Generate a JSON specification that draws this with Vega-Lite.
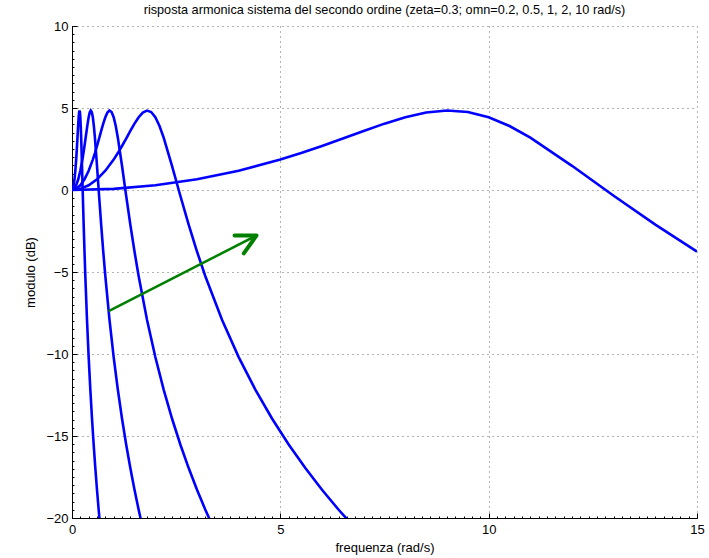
{
  "$schema": "https://vega.github.io/schema/vega-lite/v6.json",
  "width": 625,
  "height": 492,
  "autosize": {"type": "none"},
  "padding": {"left": 72, "top": 26, "right": 12, "bottom": 40},
  "background": "white",
  "title": {
    "text": "risposta armonica sistema del secondo ordine (zeta=0.3; omn=0.2, 0.5, 1, 2, 10 rad/s)",
    "font": "Liberation Sans",
    "fontSize": 12.7,
    "fontWeight": "normal",
    "color": "black",
    "anchor": "middle",
    "frame": "group",
    "offset": 3
  },
  "config": {
    "view": {"stroke": null},
    "axis": {
      "labelFont": "Liberation Sans",
      "titleFont": "Liberation Sans",
      "labelFontSize": 13,
      "titleFontSize": 13,
      "titleFontWeight": "normal",
      "labelColor": "black",
      "titleColor": "black",
      "domainColor": "black",
      "tickColor": "black"
    }
  },
  "datasets": {
    "curves": [
      {"omn": "0.2", "w": 0, "db": 0},
      {"omn": "0.2", "w": 0.02, "db": 0.071},
      {"omn": "0.2", "w": 0.04, "db": 0.287},
      {"omn": "0.2", "w": 0.06, "db": 0.653},
      {"omn": "0.2", "w": 0.08, "db": 1.174},
      {"omn": "0.2", "w": 0.1, "db": 1.854},
      {"omn": "0.2", "w": 0.11, "db": 2.252},
      {"omn": "0.2", "w": 0.12, "db": 2.683},
      {"omn": "0.2", "w": 0.13, "db": 3.137},
      {"omn": "0.2", "w": 0.14, "db": 3.6},
      {"omn": "0.2", "w": 0.15, "db": 4.046},
      {"omn": "0.2", "w": 0.16, "db": 4.437},
      {"omn": "0.2", "w": 0.17, "db": 4.722},
      {"omn": "0.2", "w": 0.18, "db": 4.845},
      {"omn": "0.2", "w": 0.19, "db": 4.757},
      {"omn": "0.2", "w": 0.2, "db": 4.437},
      {"omn": "0.2", "w": 0.21, "db": 3.9},
      {"omn": "0.2", "w": 0.22, "db": 3.19},
      {"omn": "0.2", "w": 0.24, "db": 1.475},
      {"omn": "0.2", "w": 0.26, "db": -0.352},
      {"omn": "0.2", "w": 0.28, "db": -2.114},
      {"omn": "0.2", "w": 0.3, "db": -3.752},
      {"omn": "0.2", "w": 0.32, "db": -5.257},
      {"omn": "0.2", "w": 0.36, "db": -7.913},
      {"omn": "0.2", "w": 0.4, "db": -10.187},
      {"omn": "0.2", "w": 0.44, "db": -12.172},
      {"omn": "0.2", "w": 0.48, "db": -13.933},
      {"omn": "0.2", "w": 0.52, "db": -15.516},
      {"omn": "0.2", "w": 0.56, "db": -16.956},
      {"omn": "0.2", "w": 0.6, "db": -18.276},
      {"omn": "0.2", "w": 0.64, "db": -19.497},
      {"omn": "0.2", "w": 0.68, "db": -20.633},
      {"omn": "0.2", "w": 0.72, "db": -21.694},

      {"omn": "0.5", "w": 0, "db": 0},
      {"omn": "0.5", "w": 0.05, "db": 0.071},
      {"omn": "0.5", "w": 0.1, "db": 0.287},
      {"omn": "0.5", "w": 0.15, "db": 0.653},
      {"omn": "0.5", "w": 0.2, "db": 1.174},
      {"omn": "0.5", "w": 0.25, "db": 1.854},
      {"omn": "0.5", "w": 0.275, "db": 2.252},
      {"omn": "0.5", "w": 0.3, "db": 2.683},
      {"omn": "0.5", "w": 0.325, "db": 3.137},
      {"omn": "0.5", "w": 0.35, "db": 3.6},
      {"omn": "0.5", "w": 0.375, "db": 4.046},
      {"omn": "0.5", "w": 0.4, "db": 4.437},
      {"omn": "0.5", "w": 0.425, "db": 4.722},
      {"omn": "0.5", "w": 0.45, "db": 4.845},
      {"omn": "0.5", "w": 0.475, "db": 4.757},
      {"omn": "0.5", "w": 0.5, "db": 4.437},
      {"omn": "0.5", "w": 0.525, "db": 3.9},
      {"omn": "0.5", "w": 0.55, "db": 3.19},
      {"omn": "0.5", "w": 0.6, "db": 1.475},
      {"omn": "0.5", "w": 0.65, "db": -0.352},
      {"omn": "0.5", "w": 0.7, "db": -2.114},
      {"omn": "0.5", "w": 0.75, "db": -3.752},
      {"omn": "0.5", "w": 0.8, "db": -5.257},
      {"omn": "0.5", "w": 0.9, "db": -7.913},
      {"omn": "0.5", "w": 1.0, "db": -10.187},
      {"omn": "0.5", "w": 1.1, "db": -12.172},
      {"omn": "0.5", "w": 1.2, "db": -13.933},
      {"omn": "0.5", "w": 1.3, "db": -15.516},
      {"omn": "0.5", "w": 1.4, "db": -16.956},
      {"omn": "0.5", "w": 1.5, "db": -18.276},
      {"omn": "0.5", "w": 1.6, "db": -19.497},
      {"omn": "0.5", "w": 1.7, "db": -20.633},
      {"omn": "0.5", "w": 1.8, "db": -21.694},

      {"omn": "1", "w": 0, "db": 0},
      {"omn": "1", "w": 0.1, "db": 0.071},
      {"omn": "1", "w": 0.2, "db": 0.287},
      {"omn": "1", "w": 0.3, "db": 0.653},
      {"omn": "1", "w": 0.4, "db": 1.174},
      {"omn": "1", "w": 0.5, "db": 1.854},
      {"omn": "1", "w": 0.55, "db": 2.252},
      {"omn": "1", "w": 0.6, "db": 2.683},
      {"omn": "1", "w": 0.65, "db": 3.137},
      {"omn": "1", "w": 0.7, "db": 3.6},
      {"omn": "1", "w": 0.75, "db": 4.046},
      {"omn": "1", "w": 0.8, "db": 4.437},
      {"omn": "1", "w": 0.85, "db": 4.722},
      {"omn": "1", "w": 0.9, "db": 4.845},
      {"omn": "1", "w": 0.95, "db": 4.757},
      {"omn": "1", "w": 1.0, "db": 4.437},
      {"omn": "1", "w": 1.05, "db": 3.9},
      {"omn": "1", "w": 1.1, "db": 3.19},
      {"omn": "1", "w": 1.2, "db": 1.475},
      {"omn": "1", "w": 1.3, "db": -0.352},
      {"omn": "1", "w": 1.4, "db": -2.114},
      {"omn": "1", "w": 1.5, "db": -3.752},
      {"omn": "1", "w": 1.6, "db": -5.257},
      {"omn": "1", "w": 1.8, "db": -7.913},
      {"omn": "1", "w": 2.0, "db": -10.187},
      {"omn": "1", "w": 2.2, "db": -12.172},
      {"omn": "1", "w": 2.4, "db": -13.933},
      {"omn": "1", "w": 2.6, "db": -15.516},
      {"omn": "1", "w": 2.8, "db": -16.956},
      {"omn": "1", "w": 3.0, "db": -18.276},
      {"omn": "1", "w": 3.2, "db": -19.497},
      {"omn": "1", "w": 3.4, "db": -20.633},
      {"omn": "1", "w": 3.6, "db": -21.694},

      {"omn": "2", "w": 0, "db": 0},
      {"omn": "2", "w": 0.2, "db": 0.071},
      {"omn": "2", "w": 0.4, "db": 0.287},
      {"omn": "2", "w": 0.6, "db": 0.653},
      {"omn": "2", "w": 0.8, "db": 1.174},
      {"omn": "2", "w": 1.0, "db": 1.854},
      {"omn": "2", "w": 1.1, "db": 2.252},
      {"omn": "2", "w": 1.2, "db": 2.683},
      {"omn": "2", "w": 1.3, "db": 3.137},
      {"omn": "2", "w": 1.4, "db": 3.6},
      {"omn": "2", "w": 1.5, "db": 4.046},
      {"omn": "2", "w": 1.6, "db": 4.437},
      {"omn": "2", "w": 1.7, "db": 4.722},
      {"omn": "2", "w": 1.8, "db": 4.845},
      {"omn": "2", "w": 1.9, "db": 4.757},
      {"omn": "2", "w": 2.0, "db": 4.437},
      {"omn": "2", "w": 2.1, "db": 3.9},
      {"omn": "2", "w": 2.2, "db": 3.19},
      {"omn": "2", "w": 2.4, "db": 1.475},
      {"omn": "2", "w": 2.6, "db": -0.352},
      {"omn": "2", "w": 2.8, "db": -2.114},
      {"omn": "2", "w": 3.0, "db": -3.752},
      {"omn": "2", "w": 3.2, "db": -5.257},
      {"omn": "2", "w": 3.6, "db": -7.913},
      {"omn": "2", "w": 4.0, "db": -10.187},
      {"omn": "2", "w": 4.4, "db": -12.172},
      {"omn": "2", "w": 4.8, "db": -13.933},
      {"omn": "2", "w": 5.2, "db": -15.516},
      {"omn": "2", "w": 5.6, "db": -16.956},
      {"omn": "2", "w": 6.0, "db": -18.276},
      {"omn": "2", "w": 6.4, "db": -19.497},
      {"omn": "2", "w": 6.8, "db": -20.633},
      {"omn": "2", "w": 7.2, "db": -21.694},

      {"omn": "10", "w": 0, "db": 0},
      {"omn": "10", "w": 1, "db": 0.071},
      {"omn": "10", "w": 2, "db": 0.287},
      {"omn": "10", "w": 3, "db": 0.653},
      {"omn": "10", "w": 4, "db": 1.174},
      {"omn": "10", "w": 5, "db": 1.854},
      {"omn": "10", "w": 5.5, "db": 2.252},
      {"omn": "10", "w": 6, "db": 2.683},
      {"omn": "10", "w": 6.5, "db": 3.137},
      {"omn": "10", "w": 7, "db": 3.6},
      {"omn": "10", "w": 7.5, "db": 4.046},
      {"omn": "10", "w": 8, "db": 4.437},
      {"omn": "10", "w": 8.5, "db": 4.722},
      {"omn": "10", "w": 9, "db": 4.845},
      {"omn": "10", "w": 9.5, "db": 4.757},
      {"omn": "10", "w": 10, "db": 4.437},
      {"omn": "10", "w": 10.5, "db": 3.9},
      {"omn": "10", "w": 11, "db": 3.19},
      {"omn": "10", "w": 12, "db": 1.475},
      {"omn": "10", "w": 13, "db": -0.352},
      {"omn": "10", "w": 14, "db": -2.114},
      {"omn": "10", "w": 15, "db": -3.752}
    ],
    "arrow": [
      {"x": 0.88, "y": -7.39},
      {"x": 4.43, "y": -2.77}
    ],
    "tip": [
      {"x": 4.43, "y": -2.77}
    ]
  },
  "resolve": {"axis": {"x": "independent", "y": "independent"}},
  "layer": [
    {
      "data": {"name": "curves"},
      "mark": {"type": "line", "clip": true, "color": "#0000ff", "strokeWidth": 2.6},
      "encoding": {
        "x": {
          "field": "w", "type": "quantitative",
          "scale": {"domain": [0, 15], "nice": false, "zero": false},
          "axis": {
            "orient": "bottom", "values": [0, 5, 10, 15], "ticks": false,
            "labelPadding": 5, "labelFlush": false,
            "grid": true, "gridDash": [1, 4], "gridColor": "#000", "gridOpacity": 0.6,
            "title": "frequenza (rad/s)", "titlePadding": 5
          }
        },
        "y": {
          "field": "db", "type": "quantitative",
          "scale": {"domain": [-20, 10], "nice": false, "zero": false},
          "axis": {
            "orient": "left", "values": [-20, -15, -10, -5, 0, 5, 10], "ticks": false,
            "labelPadding": 4, "labelFlush": false,
            "grid": true, "gridDash": [1, 4], "gridColor": "#000", "gridOpacity": 0.6,
            "title": "modulo (dB)", "titlePadding": 8
          }
        },
        "detail": {"field": "omn"}
      }
    },
    {
      "data": {"name": "arrow"},
      "mark": {"type": "line", "color": "#008000", "strokeWidth": 2.5},
      "encoding": {
        "x": {
          "field": "x", "type": "quantitative",
          "axis": {"orient": "bottom", "values": [0, 5, 10, 15], "tickSize": -5, "labels": false, "domain": false, "grid": false, "title": null}
        },
        "y": {
          "field": "y", "type": "quantitative",
          "axis": {"orient": "left", "values": [-20, -15, -10, -5, 0, 5, 10], "tickSize": -5, "labels": false, "domain": false, "grid": false, "title": null}
        }
      }
    },
    {
      "data": {"name": "tip"},
      "mark": {
        "type": "point", "shape": "M-1,-0.51L0,0L-1,0.51", "filled": false,
        "stroke": "#008000", "strokeWidth": 4, "size": 1540, "angle": 332.6,
        "opacity": 1, "strokeCap": "round", "strokeJoin": "round"
      },
      "encoding": {
        "x": {
          "field": "x", "type": "quantitative",
          "axis": {"orient": "bottom", "values": [0,0.2,0.4,0.6,0.8,1,1.2,1.4,1.6,1.8,2,2.2,2.4,2.6,2.8,3,3.2,3.4,3.6,3.8,4,4.2,4.4,4.6,4.8,5,5.2,5.4,5.6,5.8,6,6.2,6.4,6.6,6.8,7,7.2,7.4,7.6,7.8,8,8.2,8.4,8.6,8.8,9,9.2,9.4,9.6,9.8,10,10.2,10.4,10.6,10.8,11,11.2,11.4,11.6,11.8,12,12.2,12.4,12.6,12.8,13,13.2,13.4,13.6,13.8,14,14.2,14.4,14.6,14.8,15], "tickSize": -2, "labels": false, "domain": false, "grid": false, "title": null}
        },
        "y": {
          "field": "y", "type": "quantitative",
          "axis": {"orient": "left", "values": [-20,-19.5,-19,-18.5,-18,-17.5,-17,-16.5,-16,-15.5,-15,-14.5,-14,-13.5,-13,-12.5,-12,-11.5,-11,-10.5,-10,-9.5,-9,-8.5,-8,-7.5,-7,-6.5,-6,-5.5,-5,-4.5,-4,-3.5,-3,-2.5,-2,-1.5,-1,-0.5,0,0.5,1,1.5,2,2.5,3,3.5,4,4.5,5,5.5,6,6.5,7,7.5,8,8.5,9,9.5,10], "tickSize": -2, "labels": false, "domain": false, "grid": false, "title": null}
        }
      }
    }
  ]
}
